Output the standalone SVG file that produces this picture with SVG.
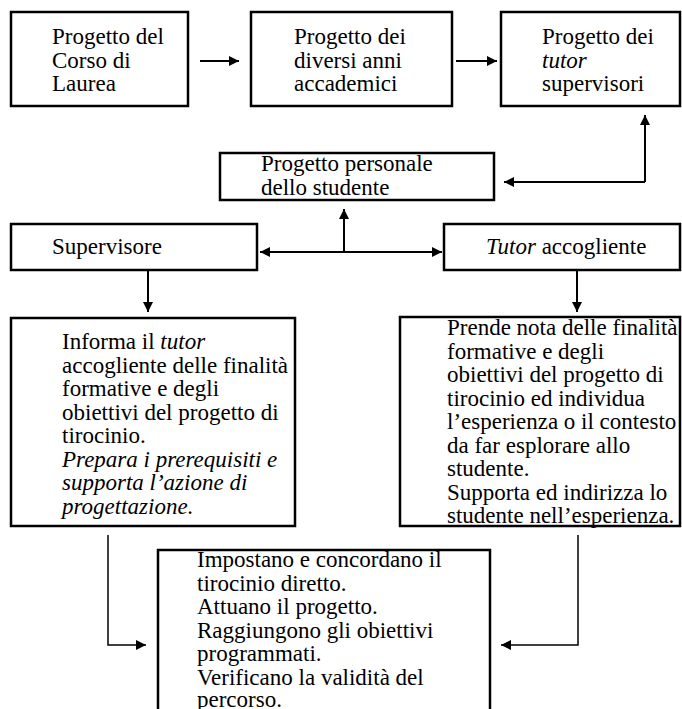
<svg xmlns="http://www.w3.org/2000/svg" width="682" height="709" viewBox="0 0 682 709" font-family="'Liberation Serif', 'Times New Roman', serif">
<defs>
<marker id="ah" viewBox="0 0 10 10" refX="10" refY="5" markerWidth="10" markerHeight="10" markerUnits="userSpaceOnUse" orient="auto-start-reverse">
<path d="M0,0 L10,5 L0,10 z" fill="#000"/>
</marker>
</defs>
<style>
.box{fill:#fff;stroke:#000;stroke-width:2.5}
.t{font-family:'Liberation Serif','Times New Roman',serif;font-size:23px;fill:#000}
.i{font-style:italic}
.c{fill:none;stroke:#000;stroke-width:2}
.e{fill:none;stroke:#000;stroke-width:1.5}
</style>
<rect width="682" height="709" fill="#fff"/>
<g id="connectors">
<line class="c" x1="200" y1="61" x2="239" y2="61" marker-end="url(#ah)"/>
<line class="c" x1="456" y1="61" x2="497" y2="61" marker-end="url(#ah)"/>
<polyline class="c" points="645,182 645,115" marker-end="url(#ah)"/>
<polyline class="c" points="645,182 504,182" marker-end="url(#ah)"/>
<line class="c" x1="260" y1="252" x2="442" y2="252" marker-start="url(#ah)" marker-end="url(#ah)"/>
<line class="c" x1="344" y1="252" x2="344" y2="209" marker-end="url(#ah)"/>
<line class="c" x1="148" y1="270" x2="148" y2="312" marker-end="url(#ah)"/>
<line class="c" x1="577" y1="270" x2="577" y2="312" marker-end="url(#ah)"/>
<polyline class="e" points="108,535 108,645 146,645" marker-end="url(#ah)"/>
<polyline class="e" points="578,535 578,645 501,645" marker-end="url(#ah)"/>
</g>
<g id="n1">
<rect class="box" x="11" y="12" width="177" height="94"/>
<text class="t" x="52" y="44">Progetto del</text>
<text class="t" x="52" y="68">Corso di</text>
<text class="t" x="52" y="91">Laurea</text>
</g>
<g id="n2">
<rect class="box" x="251" y="12" width="201" height="94"/>
<text class="t" x="294" y="44">Progetto dei</text>
<text class="t" x="294" y="68">diversi anni</text>
<text class="t" x="294" y="91">accademici</text>
</g>
<g id="n3">
<rect class="box" x="501" y="12" width="179" height="94"/>
<text class="t" x="542" y="44">Progetto dei</text>
<text class="t i" x="542" y="68">tutor</text>
<text class="t" x="542" y="91">supervisori</text>
</g>
<g id="n4">
<rect class="box" x="220" y="153" width="274" height="47"/>
<text class="t" x="261" y="171">Progetto personale</text>
<text class="t" x="261" y="194.5">dello studente</text>
</g>
<g id="n5">
<rect class="box" x="11" y="224" width="246" height="46"/>
<text class="t" x="52" y="254">Supervisore</text>
</g>
<g id="n6">
<rect class="box" x="444" y="224" width="236" height="46"/>
<text class="t" x="486" y="254"><tspan class="i">Tutor</tspan> accogliente</text>
</g>
<g id="n7">
<rect class="box" x="11" y="318" width="284" height="208"/>
<text class="t" x="62" y="349"><tspan>Informa il </tspan><tspan class="i">tutor</tspan></text>
<text class="t" x="62" y="372.5">accogliente delle finalità</text>
<text class="t" x="62" y="396">formative e degli</text>
<text class="t" x="62" y="419.5">obiettivi del progetto di</text>
<text class="t" x="62" y="443">tirocinio.</text>
<text class="t i" x="62" y="466.5">Prepara i prerequisiti e</text>
<text class="t i" x="62" y="490">supporta l’azione di</text>
<text class="t i" x="62" y="513.5">progettazione.</text>
</g>
<g id="n8">
<rect class="box" x="400" y="317" width="280" height="209"/>
<text class="t" x="447" y="335">Prende nota delle finalità</text>
<text class="t" x="447" y="358.5">formative e degli</text>
<text class="t" x="447" y="382">obiettivi del progetto di</text>
<text class="t" x="447" y="405.5">tirocinio ed individua</text>
<text class="t" x="447" y="429">l’esperienza o il contesto</text>
<text class="t" x="447" y="452.5">da far esplorare allo</text>
<text class="t" x="447" y="476">studente.</text>
<text class="t" x="447" y="499.5">Supporta ed indirizza lo</text>
<text class="t" x="447" y="523">studente nell’esperienza.</text>
</g>
<g id="n9">
<rect class="box" x="158" y="550" width="332" height="170"/>
<text class="t" x="197" y="567">Impostano e concordano il</text>
<text class="t" x="197" y="590.5">tirocinio diretto.</text>
<text class="t" x="197" y="614">Attuano il progetto.</text>
<text class="t" x="197" y="637.5">Raggiungono gli obiettivi</text>
<text class="t" x="197" y="661">programmati.</text>
<text class="t" x="197" y="684.5">Verificano la validità del</text>
<text class="t" x="197" y="707">percorso.</text>
</g>
</svg>
